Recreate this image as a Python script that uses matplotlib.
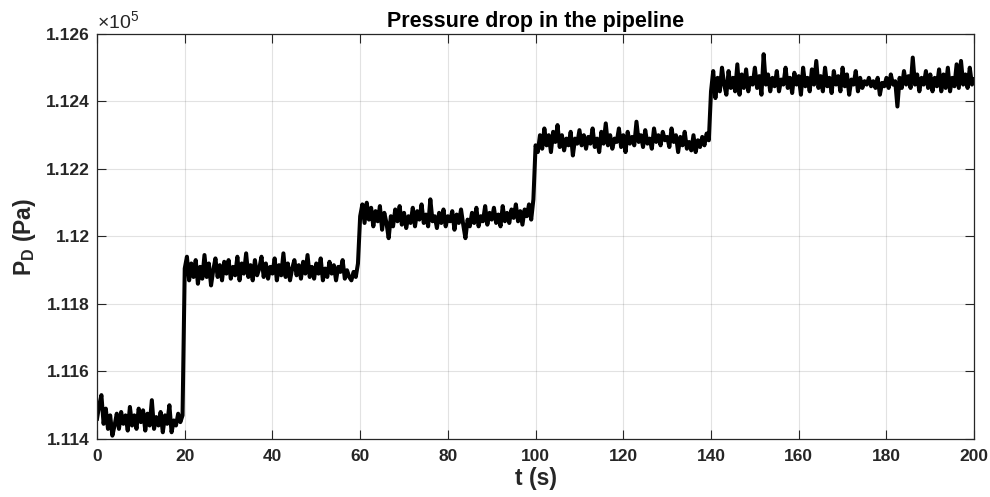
import numpy as np
import matplotlib
matplotlib.use('Agg')
import matplotlib.pyplot as plt
from matplotlib.ticker import FuncFormatter

# sample spacing of the record (s)
dt = 0.5

# pressure readings (Pa), one list per flow setting
p_0_20 = [111460, 111500, 111530, 111445, 111490, 111430, 111470, 111410, 111440, 111475,
          111430, 111480, 111445, 111470, 111425, 111495, 111440, 111470, 111430, 111490,
          111450, 111485, 111425, 111475, 111440, 111515, 111430, 111465, 111440, 111480,
          111420, 111470, 111445, 111500, 111420, 111455, 111440, 111475, 111450, 111470]
p_20_60 = [111905, 111940, 111870, 111920, 111880, 111930, 111860, 111910, 111875, 111945,
           111880, 111920, 111855, 111900, 111935, 111880, 111915, 111870, 111925, 111890,
           111930, 111875, 111910, 111885, 111940, 111870, 111920, 111890, 111950, 111880,
           111915, 111870, 111930, 111885, 111905, 111940, 111880, 111920, 111875, 111910,
           111890, 111935, 111870, 111915, 111885, 111950, 111880, 111920, 111870, 111905,
           111930, 111885, 111915, 111875, 111925, 111890, 111945, 111880, 111910, 111875,
           111920, 111890, 111935, 111870, 111905, 111880, 111925, 111890, 111915, 111870,
           111910, 111895, 111930, 111875, 111900, 111880, 111870, 111895, 111880, 111920]
p_60_100 = [112060, 112095, 112040, 112100, 112050, 112085, 112030, 112075, 112045, 112090,
            112020, 112070, 112040, 111995, 112060, 112030, 112080, 112045, 112090, 112035,
            112070, 112025, 112060, 112040, 112085, 112030, 112075, 112050, 112095, 112040,
            112065, 112030, 112110, 112045, 112060, 112025, 112070, 112040, 112080, 112030,
            112060, 112045, 112075, 112020, 112065, 112040, 112080, 112035, 111995, 112050,
            112030, 112070, 112040, 112085, 112030, 112060, 112045, 112090, 112035, 112070,
            112050, 112085, 112040, 112065, 112030, 112090, 112045, 112070, 112040, 112080,
            112055, 112095, 112045, 112075, 112035, 112080, 112060, 112095, 112050, 112110]
p_100_140 = [112270, 112250, 112300, 112260, 112320, 112270, 112300, 112250, 112310, 112280,
             112330, 112265, 112300, 112255, 112290, 112270, 112310, 112240, 112290, 112275,
             112315, 112270, 112300, 112260, 112295, 112275, 112320, 112265, 112290, 112250,
             112310, 112275, 112335, 112270, 112300, 112260, 112290, 112280, 112320, 112265,
             112300, 112250, 112310, 112275, 112295, 112270, 112340, 112280, 112300, 112265,
             112315, 112275, 112290, 112260, 112320, 112280, 112300, 112270, 112310, 112285,
             112295, 112265, 112320, 112280, 112300, 112250, 112295, 112270, 112310, 112260,
             112280, 112255, 112300, 112250, 112285, 112265, 112295, 112270, 112305, 112285]
p_140_200 = [112430, 112490, 112410, 112470, 112430, 112500, 112450, 112420, 112490, 112440,
             112470, 112430, 112510, 112420, 112480, 112440, 112495, 112430, 112470, 112450,
             112500, 112440, 112475, 112420, 112540, 112450, 112480, 112430, 112470, 112445,
             112490, 112430, 112465, 112450, 112500, 112440, 112470, 112425, 112485, 112450,
             112475, 112420, 112500, 112445, 112470, 112430, 112495, 112450, 112520, 112440,
             112475, 112430, 112500, 112445, 112470, 112425, 112490, 112450, 112475, 112430,
             112500, 112445, 112480, 112420, 112465, 112450, 112490, 112430, 112470, 112440,
             112460, 112450, 112470, 112445, 112460, 112440, 112470, 112420, 112455, 112445,
             112470, 112440, 112480, 112450, 112460, 112385, 112470, 112440, 112490, 112450,
             112475, 112440, 112530, 112450, 112480, 112430, 112470, 112450, 112490, 112440,
             112480, 112430, 112470, 112445, 112495, 112430, 112480, 112440, 112500, 112430,
             112470, 112445, 112510, 112440, 112520, 112450, 112480, 112440, 112500, 112450,
             112465]

x_ticks = [0, 20, 40, 60, 80, 100, 120, 140, 160, 180, 200]
y_ticks = [1.114, 1.116, 1.118, 1.12, 1.122, 1.124, 1.126]

pressure = np.array(p_0_20 + p_20_60 + p_60_100 + p_100_140 + p_140_200, dtype=float)
t = np.arange(len(pressure)) * dt

plt.rcParams['font.family'] = ['Liberation Sans', 'DejaVu Sans']
plt.rcParams['mathtext.fontset'] = 'custom'
plt.rcParams['mathtext.rm'] = 'Liberation Sans'
plt.rcParams['mathtext.it'] = 'Liberation Sans:italic'
plt.rcParams['mathtext.bf'] = 'Liberation Sans:bold'

dark = '#262626'
fig = plt.figure(figsize=(9.9, 4.97), dpi=100)
ax = fig.add_axes([0.098, 0.1167, 0.886, 0.815])

ax.plot(t, pressure / 1e5, color='black', lw=2.9)

ax.set_xlim(0, 200)
ax.set_ylim(1.114, 1.126)
ax.set_xticks(x_ticks)
ax.set_yticks(y_ticks)
ax.yaxis.set_major_formatter(FuncFormatter(lambda v, pos: '%g' % round(v, 4)))
ax.grid(True, color=dark, alpha=0.13, lw=0.8)
ax.tick_params(direction='in', length=6.3, width=0.8, colors=dark,
               top=True, right=True, labelsize=12.5)
ax.tick_params(axis='x', pad=7)
ax.tick_params(axis='y', pad=5)
for lab in ax.get_xticklabels() + ax.get_yticklabels():
    lab.set_fontweight('bold')
for s in ax.spines.values():
    s.set_color(dark)
    s.set_linewidth(0.9)

ax.text(0.0, 1.004, r'$\times\mathrm{10}^{5}$', transform=ax.transAxes,
        fontsize=14, color=dark, ha='left', va='bottom')

ax.set_title('Pressure drop in the pipeline', fontsize=15.5, fontweight='bold', pad=5)
ax.set_xlabel('t (s)', fontsize=16.5, fontweight='bold', color=dark, labelpad=2)
ax.set_ylabel(r'$\mathbf{P_D}$ (Pa)', fontsize=16.5, fontweight='bold', color=dark, labelpad=6)

fig.savefig('out.png', dpi=100)
